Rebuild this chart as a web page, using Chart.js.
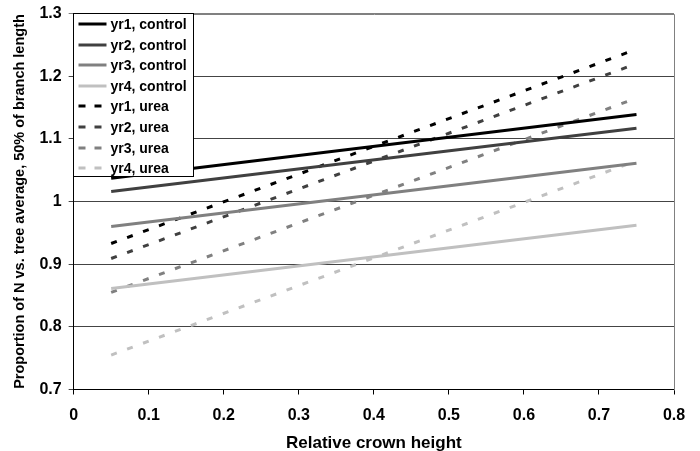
<!DOCTYPE html>
<html lang="en">
<head>
    <meta charset="UTF-8">
    <title>Relative crown height</title>
    <script src="https://cdn.jsdelivr.net/npm/chart.js"></script>
    <style>
        body {
            margin: 0;
            background: white;
        }
        .chart-container {
            position: relative;
            width: 700px;
            height: 451px;
        }
    </style>
</head>
<body>
    <div class="chart-container">
        <canvas id="nChart"></canvas>
    </div>

    <script>
        // regression line end points (relative crown height)
        const xEnds = [0.05, 0.75];

        const seriesNames = ['yr1, control', 'yr2, control', 'yr3, control', 'yr4, control',
                             'yr1, urea', 'yr2, urea', 'yr3, urea', 'yr4, urea'];

        const yr1Control = [1.037, 1.139];
        const yr2Control = [1.016, 1.117];
        const yr3Control = [0.960, 1.061];
        const yr4Control = [0.861, 0.962];
        const yr1Urea = [0.933, 1.243];
        const yr2Urea = [0.909, 1.220];
        const yr3Urea = [0.855, 1.165];
        const yr4Urea = [0.755, 1.065];

        const xTicks = [0, 0.1, 0.2, 0.3, 0.4, 0.5, 0.6, 0.7, 0.8];
        const yTicks = [0.7, 0.8, 0.9, 1, 1.1, 1.2, 1.3];

        const seriesValues = [yr1Control, yr2Control, yr3Control, yr4Control,
                              yr1Urea, yr2Urea, yr3Urea, yr4Urea];
        const shades = ['#000000', '#404040', '#808080', '#c0c0c0'];

        const FONT = '"Liberation Sans", Arial, sans-serif';

        const datasets = seriesValues.map((vals, i) => ({
            label: seriesNames[i],
            data: vals.map((v, k) => ({ x: xEnds[k], y: v })),
            borderColor: shades[i % 4],
            backgroundColor: shades[i % 4],
            borderWidth: 3,
            borderDash: i < 4 ? [] : [6, 11],
            borderCapStyle: 'butt',
            pointRadius: 0,
            fill: false
        }));

        // legend box drawn inside the plot, top-left corner
        const boxLegend = {
            id: 'boxLegend',
            afterDatasetsDraw(chart) {
                const ctx = chart.ctx;
                const area = chart.chartArea;
                const left = Math.round(area.left) - 0.5;
                const top = Math.round(area.top) - 0.5;
                ctx.save();
                ctx.fillStyle = 'white';
                ctx.fillRect(left, top, 120, 163);
                ctx.strokeStyle = '#000';
                ctx.lineWidth = 1;
                ctx.strokeRect(left, top, 120, 163);
                ctx.font = 'bold 14px ' + FONT;
                ctx.textBaseline = 'middle';
                chart.data.datasets.forEach((ds, i) => {
                    const y = Math.round(top + 10.5 + i * 20.6);
                    ctx.strokeStyle = ds.borderColor;
                    ctx.lineWidth = 3;
                    ctx.lineCap = 'butt';
                    ctx.beginPath();
                    if (ds.borderDash.length) {
                        ctx.setLineDash([7, 9]);
                        ctx.moveTo(left + 5, y);
                        ctx.lineTo(left + 29, y);
                    } else {
                        ctx.setLineDash([]);
                        ctx.moveTo(left + 5, y);
                        ctx.lineTo(left + 33, y);
                    }
                    ctx.stroke();
                    ctx.setLineDash([]);
                    ctx.fillStyle = '#000';
                    ctx.fillText(ds.label, left + 37, y + 1);
                });
                ctx.restore();
            }
        };

        // gray plot frame on top and right
        const plotFrame = {
            id: 'plotFrame',
            beforeDatasetsDraw(chart) {
                const ctx = chart.ctx;
                const a = chart.chartArea;
                ctx.save();
                ctx.strokeStyle = '#808080';
                ctx.lineWidth = 1;
                ctx.beginPath();
                ctx.moveTo(Math.round(a.left) + 0.5, Math.round(a.top) + 0.5);
                ctx.lineTo(Math.round(a.right) + 0.5, Math.round(a.top) + 0.5);
                ctx.lineTo(Math.round(a.right) + 0.5, Math.round(a.bottom) + 0.5);
                ctx.stroke();
                ctx.restore();
            }
        };

        const fmt = v => String(Number(v.toFixed(1)));

        new Chart(document.getElementById('nChart').getContext('2d'), {
            type: 'line',
            data: { datasets: datasets },
            options: {
                responsive: true,
                maintainAspectRatio: false,
                animation: false,
                layout: {
                    padding: { left: 7, right: 26, top: 13.5, bottom: 0 }
                },
                plugins: {
                    legend: { display: false },
                    tooltip: { enabled: false }
                },
                scales: {
                    x: {
                        type: 'linear',
                        min: xTicks[0],
                        max: xTicks[xTicks.length - 1],
                        afterBuildTicks: axis => { axis.ticks = xTicks.map(v => ({ value: v })); },
                        ticks: {
                            color: '#000',
                            padding: 11,
                            maxRotation: 0,
                            font: { family: FONT, size: 16, weight: 'bold' },
                            callback: fmt
                        },
                        grid: {
                            drawOnChartArea: false,
                            drawTicks: true,
                            tickLength: 5,
                            color: '#000'
                        },
                        border: { color: '#000', width: 1 },
                        title: {
                            display: true,
                            text: 'Relative crown height',
                            color: '#000',
                            padding: { top: 0, bottom: 0 },
                            font: { family: FONT, size: 17, weight: 'bold', lineHeight: 0.9 }
                        }
                    },
                    y: {
                        min: yTicks[0],
                        max: yTicks[yTicks.length - 1],
                        afterBuildTicks: axis => { axis.ticks = yTicks.map(v => ({ value: v })); },
                        afterFit: axis => { axis.paddingTop = 0; },
                        ticks: {
                            color: '#000',
                            padding: 7,
                            font: { family: FONT, size: 16, weight: 'bold' },
                            callback: fmt
                        },
                        grid: {
                            drawTicks: true,
                            tickLength: 5,
                            color: ctx => ctx.tick && ctx.tick.value > 1.25 ? '#808080' : '#444'
                        },
                        border: { color: '#000', width: 1 },
                        title: {
                            display: true,
                            text: 'Proportion of N vs. tree average, 50% of branch length',
                            color: '#000',
                            padding: { top: 4, bottom: 4 },
                            font: { family: FONT, size: 14.5, weight: 'bold' }
                        }
                    }
                }
            },
            plugins: [plotFrame, boxLegend]
        });
    </script>
</body>
</html>
